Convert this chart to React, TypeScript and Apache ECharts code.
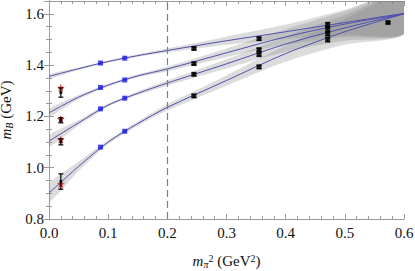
import React, { useEffect, useRef } from "react";
import * as echarts from "echarts";

// Fit curves (value at xGrid) and half-widths of their error bands
const xGrid = [0, 0.05, 0.1, 0.15, 0.2, 0.3, 0.4, 0.5, 0.6];
const fit1 = [1.356, 1.386, 1.414, 1.437, 1.457, 1.495, 1.530, 1.566, 1.602];
const fit2 = [1.214, 1.275, 1.322, 1.358, 1.385, 1.448, 1.510, 1.560, 1.600];
const fit3 = [1.104, 1.175, 1.244, 1.290, 1.330, 1.405, 1.482, 1.545, 1.600];
const fit4 = [0.901, 1.005, 1.100, 1.172, 1.235, 1.340, 1.445, 1.530, 1.600];
const band1 = [0.008, 0.005, 0.004, 0.005, 0.008, 0.016, 0.028, 0.05, 0.08];
const band2 = [0.015, 0.008, 0.005, 0.006, 0.009, 0.017, 0.03, 0.05, 0.08];
const band3 = [0.022, 0.01, 0.006, 0.007, 0.01, 0.018, 0.03, 0.05, 0.08];
const band4 = [0.035, 0.018, 0.008, 0.008, 0.012, 0.02, 0.032, 0.05, 0.08];

// Light-quark lattice points (blue)
const lightX = [0.087, 0.128];
const light1 = [1.408, 1.427];
const light2 = [1.313, 1.342];
const light3 = [1.2295, 1.271];
const light4 = [1.08, 1.142];

// Heavier lattice points (black)
const heavyX = [0.245, 0.245, 0.245, 0.245, 0.355, 0.355, 0.355, 0.355, 0.471, 0.471, 0.471, 0.471, 0.573];
const heavyY = [1.465, 1.406, 1.364, 1.28, 1.503, 1.46, 1.441, 1.393, 1.558, 1.538, 1.522, 1.499, 1.566];
const heavyErr = [0.005, 0.005, 0.005, 0.006, 0.006, 0.006, 0.006, 0.006, 0.008, 0.008, 0.008, 0.008, 0.004];

// Physical point: extrapolations (black) and experiment (red stars)
const physX = [0.02, 0.02, 0.02, 0.02];
const physY = [1.293, 1.185, 1.101, 0.946];
const physErr = [0.018, 0.01, 0.012, 0.03];
const expY = [1.312, 1.19, 1.11, 0.936];

const xTicks = [0, 0.1, 0.2, 0.3, 0.4, 0.5, 0.6];
const yTicks = [0.8, 1.0, 1.2, 1.4, 1.6];

const FONT = "Liberation Serif";
const STAR =
  "path://M0,-10 L2.35,-3.24 L9.51,-3.09 L3.8,1.24 L5.88,8.09 L0,4 L-5.88,8.09 L-3.8,1.24 L-9.51,-3.09 L-2.35,-3.24 Z";

export default function App() {
  const ref = useRef<HTMLDivElement>(null);
  useEffect(() => {
    if (!ref.current) return;
    const chart = echarts.init(ref.current, undefined, { renderer: "svg" });
    const fits = [fit1, fit2, fit3, fit4];
    const bands = [band1, band2, band3, band4];
    const lights = [light1, light2, light3, light4];
    const series: any[] = [];

    // error bands as polygons through the axis scales
    series.push({
      type: "custom",
      clip: true,
      silent: true,
      z: 1,
      encode: { x: 0, y: 1 },
      data: fits.map((f, i) => [i, f[0]]),
      renderItem: (params: any, api: any) => {
        const i = params.dataIndex;
        const fit = fits[i];
        const hw = bands[i];
        const upper = xGrid.map((x, j) => api.coord([x, fit[j] + hw[j]]));
        const lower = xGrid.map((x, j) => api.coord([x, fit[j] - hw[j]]));
        return {
          type: "polygon",
          shape: { points: upper.concat(lower.reverse()), smooth: 0.25 },
          style: { fill: "rgba(128,128,128,0.28)" },
        };
      },
    });

    fits.forEach((fit, i) => {
      series.push({
        type: "line",
        data: xGrid.map((x, j) => [x, fit[j]]),
        symbol: "none",
        smooth: 0.3,
        lineStyle: { color: "#5050b0", width: 1 },
        z: 3,
        ...(i === 0
          ? {
              markLine: {
                symbol: "none",
                silent: true,
                label: { show: false },
                lineStyle: { type: [7, 4], color: "#808080", width: 1.2 },
                data: [{ xAxis: 0.2 }],
              },
            }
          : {}),
      });
    });
    lights.forEach((ly) => {
      series.push({
        type: "scatter",
        data: lightX.map((x, j) => [x, ly[j]]),
        symbol: "rect",
        symbolSize: 5,
        itemStyle: { color: "#1515e6" },
        z: 5,
      });
    });
    series.push({
      type: "scatter",
      data: physX.map((x, j) => [x, expY[j]]),
      symbol: STAR,
      symbolSize: 8,
      itemStyle: { color: "#e01010" },
      z: 4,
    });
    const errItem = (params: any, api: any) => {
      const x = api.value(0);
      const p1 = api.coord([x, api.value(1)]);
      const p2 = api.coord([x, api.value(2)]);
      const w = 2.5;
      const st = { stroke: "#000", lineWidth: 1.2 };
      return {
        type: "group",
        children: [
          { type: "line", shape: { x1: p1[0], y1: p1[1], x2: p2[0], y2: p2[1] }, style: st },
          { type: "line", shape: { x1: p1[0] - w, y1: p1[1], x2: p1[0] + w, y2: p1[1] }, style: st },
          { type: "line", shape: { x1: p2[0] - w, y1: p2[1], x2: p2[0] + w, y2: p2[1] }, style: st },
        ],
      };
    };
    series.push({
      type: "custom",
      renderItem: errItem,
      encode: { x: 0, y: [1, 2] },
      data: heavyX.map((x, j) => [x, heavyY[j] - heavyErr[j], heavyY[j] + heavyErr[j]]),
      z: 6,
    });
    series.push({
      type: "custom",
      renderItem: errItem,
      encode: { x: 0, y: [1, 2] },
      data: physX.map((x, j) => [x, physY[j] - physErr[j], physY[j] + physErr[j]]),
      z: 6,
    });
    series.push({
      type: "scatter",
      data: heavyX.map((x, j) => [x, heavyY[j]]),
      symbol: "rect",
      symbolSize: 5,
      itemStyle: { color: "#000" },
      z: 7,
    });
    series.push({
      type: "scatter",
      data: physX.map((x, j) => [x, physY[j]]),
      symbol: "rect",
      symbolSize: 3,
      itemStyle: { color: "#000" },
      z: 7,
    });

    const axisLine = { show: true, lineStyle: { color: "#9a9a9a", width: 1 } };
    const tick = { show: true, inside: true, length: 5, lineStyle: { color: "#9a9a9a" } };
    const minor = (n: number) => ({ show: true, splitNumber: n, length: 3, lineStyle: { color: "#9a9a9a" } });
    const isTick = (arr: number[], v: number) => arr.some((t) => Math.abs(t - v) < 1e-6);
    const labelStyle = { fontFamily: FONT, fontSize: 15, color: "#111" };
    const xBase = {
      type: "value",
      min: 0,
      max: 0.6,
      interval: 0.1,
      axisLine,
      axisTick: tick,
      minorTick: minor(5),
      splitLine: { show: false },
    };
    const yBase = {
      type: "value",
      min: 0.8,
      max: 1.65,
      interval: 0.2,
      axisLine,
      axisTick: tick,
      minorTick: minor(4),
      splitLine: { show: false },
    };
    const rich = {
      m: { fontFamily: FONT, fontStyle: "italic", fontSize: 15, lineHeight: 16, color: "#111" },
      sub: { fontFamily: FONT, fontStyle: "italic", fontSize: 10, lineHeight: 8, verticalAlign: "bottom", color: "#111" },
      sup: { fontFamily: FONT, fontSize: 10, lineHeight: 8, verticalAlign: "top", color: "#111" },
      t: { fontFamily: FONT, fontSize: 15, lineHeight: 16, color: "#111" },
    };
    chart.setOption({
      animation: false,
      textStyle: { fontFamily: FONT },
      grid: { left: 49, right: 11, top: 1, bottom: 52, containLabel: false, outerBoundsMode: "none" },
      xAxis: [
        {
          ...xBase,
          position: "bottom",
          axisLabel: {
            ...labelStyle,
            margin: 6,
            formatter: (v: number) => (isTick(xTicks, v) ? v.toFixed(1) : ""),
          },
          name: "{m|m}{sub|π}{sup|2}{t| (GeV}{sup|2}{t|)}",
          nameLocation: "middle",
          nameGap: 34,
          nameTextStyle: { fontFamily: FONT, rich },
        },
        { ...xBase, position: "top", axisLabel: { show: false } },
      ],
      yAxis: [
        {
          ...yBase,
          position: "left",
          axisLabel: {
            ...labelStyle,
            margin: 5,
            showMaxLabel: false,
            formatter: (v: number) => (isTick(yTicks, v) ? v.toFixed(1) : ""),
          },
          name: "{m|m}{sub|B}{t| (GeV)}",
          nameLocation: "middle",
          nameGap: 28,
          nameTextStyle: { fontFamily: FONT, rich },
        },
        { ...yBase, position: "right", axisLabel: { show: false } },
      ],
      series,
    });
    return () => chart.dispose();
  }, []);
  return <div ref={ref} style={{ width: 415, height: 271, position: "absolute", left: 0, top: 0 }} />;
}
